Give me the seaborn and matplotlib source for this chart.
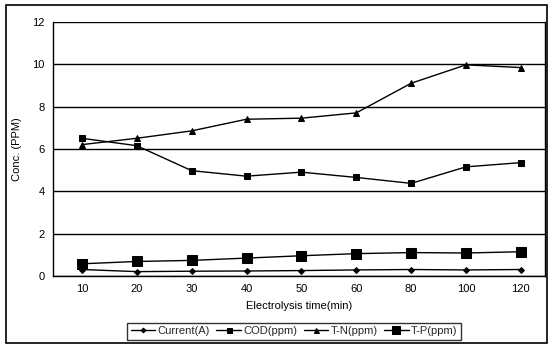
import matplotlib
matplotlib.use("Agg")
import matplotlib.pyplot as plt
import seaborn as sns
import pandas as pd
import numpy as np

times = ["10", "20", "30", "40", "50", "60", "80", "100", "120"]
current = [0.30, 0.20, 0.22, 0.23, 0.25, 0.28, 0.30, 0.28, 0.30]
cod = [6.50, 6.15, 4.97, 4.71, 4.90, 4.65, 4.37, 5.15, 5.35]
tn = [6.20, 6.50, 6.85, 7.40, 7.45, 7.70, 9.10, 9.97, 9.84]
tp = [0.57, 0.68, 0.73, 0.84, 0.95, 1.05, 1.10, 1.08, 1.14]
series_names = ["Current(A)", "COD(ppm)", "T-N(ppm)", "T-P(ppm)"]
yticks = [0, 2, 4, 6, 8, 10, 12]

sns.set_theme(style="white")
plt.rcParams['font.family'] = ['Liberation Sans', 'DejaVu Sans']

rows = []
for name, vals in zip(series_names, [current, cod, tn, tp]):
    for i, (t, v) in enumerate(zip(times, vals)):
        rows.append({"pos": i, "time": t, "value": v, "series": name})
df = pd.DataFrame(rows)

fig = plt.figure(figsize=(5.5, 3.47), dpi=100)
ax = fig.add_axes([0.096, 0.205, 0.895, 0.732])

markers = {"Current(A)": "D", "COD(ppm)": "s", "T-N(ppm)": "^", "T-P(ppm)": "s"}
sizes = {"Current(A)": 3, "COD(ppm)": 4.5, "T-N(ppm)": 4.5, "T-P(ppm)": 6.5}
for name in series_names:
    sub = df[df.series == name]
    sns.lineplot(data=sub, x="pos", y="value", ax=ax, color="black",
                 marker=markers[name], markersize=sizes[name], linewidth=1.0,
                 markeredgecolor="black", label=name)

ax.set_xlim(-0.53, 8.44)
ax.set_ylim(0, 12)
ax.set_yticks(yticks)
ax.set_xticks(range(len(times)))
ax.set_xticklabels(times)
ax.yaxis.grid(True, color="black", linewidth=1.0)
ax.set_axisbelow(True)
for s in ["left", "bottom", "right"]:
    ax.spines[s].set_visible(True)
    ax.spines[s].set_color("black")
    ax.spines[s].set_linewidth(1.0)
ax.spines["top"].set_visible(False)
ax.tick_params(axis="both", length=0, labelsize=8, colors="black", pad=6)
ax.set_xlabel("Electrolysis time(min)", fontsize=8, labelpad=5, color="black")
ax.set_ylabel("Conc. (PPM)", fontsize=8, labelpad=7, color="black")

leg = ax.legend(loc="center", bbox_to_anchor=(0.49, -0.218), ncol=4,
                frameon=True, fontsize=8, handlelength=2.2, columnspacing=0.6,
                handletextpad=0.2, borderpad=0.3, fancybox=False, markerscale=0.8)
leg.get_frame().set_edgecolor("black")
leg.get_frame().set_linewidth(1.0)

# outer border
rect = plt.Rectangle((0.01, 0.012), 0.985, 0.975, transform=fig.transFigure,
                     fill=False, edgecolor="black", linewidth=1.2)
fig.patches.append(rect)

fig.savefig("out.png", dpi=100)
